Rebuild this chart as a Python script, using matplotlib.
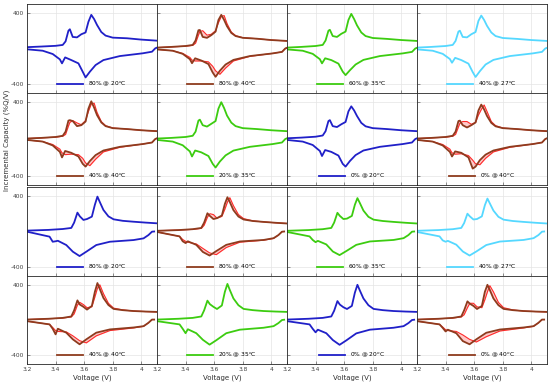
import matplotlib
matplotlib.use('Agg')
import matplotlib.pyplot as plt

# colours used in the panels
BLUE = '#2020c8'
BROWN = '#8e3b1e'
GREEN = '#3ccc10'
CYAN = '#55d8ff'
RED = '#ff2a2a'

# ---- top group (rows 1-2) ----
charge_v_top = [3.20, 3.30, 3.40, 3.45, 3.47, 3.49, 3.50, 3.52, 3.55, 3.58, 3.61,
                3.63, 3.65, 3.67, 3.69, 3.72, 3.75, 3.80, 3.90, 4.00, 4.11]
disch_v_top = [3.20, 3.31, 3.38, 3.43, 3.445, 3.467, 3.51, 3.56, 3.59, 3.61, 3.64,
               3.68, 3.735, 3.85, 4.01, 4.075, 4.098, 4.11]

top_labels = ['80% @ 20$^o$C', '80% @ 40$^o$C', '60% @ 35$^o$C', '40% @ 27$^o$C',
              '40% @ 40$^o$C', '20% @ 35$^o$C', '0% @ 20$^o$C', '0% @ 40$^o$C']
top_colors = [BLUE, BROWN, GREEN, CYAN, BROWN, GREEN, BLUE, BROWN]

top_charge = [
    [15, 22, 30, 40, 80, 200, 216, 130, 125, 160, 180, 300, 378, 330, 265, 185, 145, 122, 115, 100, 88],
    [10, 18, 28, 40, 90, 205, 208, 130, 120, 150, 190, 320, 378, 320, 250, 175, 140, 120, 110, 95, 85],
    [10, 18, 28, 40, 90, 200, 210, 140, 130, 165, 190, 320, 389, 330, 260, 180, 140, 118, 108, 95, 85],
    [10, 18, 28, 40, 85, 190, 200, 130, 125, 160, 185, 310, 370, 320, 255, 180, 140, 118, 108, 95, 85],
    [5, 12, 22, 35, 80, 200, 205, 195, 140, 150, 190, 330, 410, 340, 260, 180, 140, 118, 108, 95, 85],
    [5, 12, 22, 35, 80, 200, 210, 150, 135, 165, 195, 330, 400, 335, 255, 178, 140, 118, 108, 95, 85],
    [8, 15, 25, 38, 85, 195, 205, 140, 130, 160, 185, 300, 355, 310, 250, 175, 138, 118, 108, 95, 85],
    [5, 12, 22, 35, 80, 195, 200, 150, 125, 150, 180, 310, 374, 320, 250, 175, 138, 118, 108, 95, 85],
]
top_disch = [
    [-9, -25, -62, -122, -167, -100, -130, -167, -261, -325, -261, -186, -130, -85, -54, -36, 2, 10],
    [-10, -25, -60, -120, -165, -110, -135, -175, -270, -318, -250, -180, -128, -85, -55, -38, 0, 8],
    [-10, -25, -60, -120, -167, -110, -130, -170, -260, -299, -245, -180, -128, -85, -55, -38, 0, 8],
    [-10, -25, -60, -118, -160, -105, -130, -170, -265, -320, -255, -180, -128, -85, -55, -38, 0, 8],
    [-10, -28, -70, -140, -200, -130, -150, -190, -270, -300, -240, -175, -125, -85, -55, -38, 0, 8],
    [-10, -28, -68, -135, -190, -125, -145, -185, -270, -310, -245, -178, -126, -85, -55, -38, 0, 8],
    [-10, -28, -65, -130, -185, -120, -140, -180, -270, -300, -240, -175, -125, -85, -55, -38, 0, 8],
    [-10, -28, -70, -140, -190, -135, -150, -200, -322, -300, -230, -170, -125, -85, -55, -38, 0, 8],
]
# early cycles (red) for the 40 degC cells, panel index -> curve
top_charge_red = {
    1: [10, 18, 26, 35, 60, 150, 190, 200, 150, 160, 200, 290, 360, 370, 280, 185, 145, 122, 110, 95, 85],
    4: [5, 12, 20, 30, 50, 140, 180, 200, 175, 155, 200, 300, 380, 390, 290, 190, 145, 120, 108, 95, 85],
    7: [5, 12, 20, 30, 50, 130, 170, 190, 190, 160, 180, 260, 320, 370, 300, 190, 145, 120, 108, 95, 85],
}
top_disch_red = {
    1: [-10, -25, -55, -100, -130, -140, -140, -150, -200, -250, -290, -220, -140, -88, -55, -38, 0, 8],
    4: [-10, -28, -60, -110, -150, -170, -165, -170, -210, -260, -290, -220, -140, -90, -55, -38, 0, 8],
    7: [-10, -28, -60, -110, -150, -165, -160, -180, -230, -270, -280, -210, -140, -90, -55, -38, 0, 8],
}

# ---- bottom group (rows 3-4) ----
charge_v_bot = [3.20, 3.35, 3.45, 3.51, 3.53, 3.553, 3.57, 3.595, 3.62, 3.654, 3.675,
                3.693, 3.71, 3.735, 3.77, 3.806, 3.87, 3.945, 4.03, 4.11]
disch_v_bot = [3.20, 3.358, 3.38, 3.40, 3.416, 3.475, 3.521, 3.568, 3.615, 3.685,
               3.78, 3.946, 4.016, 4.05, 4.075, 4.09]

bot_labels = top_labels
bot_colors = top_colors

bot_charge = [
    [10, 18, 28, 40, 100, 212, 170, 130, 140, 167, 300, 392, 330, 242, 170, 137, 120, 110, 100, 92],
    [8, 16, 26, 40, 100, 205, 175, 140, 150, 180, 310, 385, 330, 240, 168, 135, 118, 108, 98, 90],
    [8, 16, 26, 40, 100, 210, 175, 140, 145, 175, 300, 375, 320, 235, 165, 133, 118, 108, 98, 90],
    [8, 16, 26, 40, 95, 200, 170, 135, 140, 170, 295, 370, 315, 235, 165, 133, 118, 108, 98, 90],
    [5, 14, 24, 40, 110, 223, 175, 150, 118, 160, 320, 420, 350, 250, 170, 126, 112, 102, 96, 92],
    [5, 14, 24, 40, 110, 220, 180, 150, 125, 165, 320, 410, 340, 245, 168, 126, 112, 102, 96, 92],
    [5, 14, 24, 40, 105, 215, 175, 145, 125, 160, 310, 400, 335, 245, 168, 126, 112, 102, 96, 92],
    [5, 14, 24, 40, 110, 212, 185, 160, 125, 160, 320, 400, 340, 245, 168, 126, 112, 102, 96, 92],
]
bot_disch = [
    [-2, -58, -115, -110, -104, -152, -227, -276, -227, -152, -115, -96, -77, -40, -2, 0],
    [-5, -55, -110, -130, -110, -150, -230, -270, -220, -150, -112, -95, -75, -40, -2, 0],
    [-5, -55, -95, -120, -105, -145, -225, -265, -220, -150, -112, -95, -75, -40, -2, 0],
    [-5, -55, -100, -115, -105, -148, -225, -270, -225, -152, -113, -95, -75, -40, -2, 0],
    [-13, -50, -100, -163, -99, -144, -220, -276, -220, -144, -107, -85, -70, -32, 5, 5],
    [-13, -50, -100, -150, -105, -150, -225, -280, -230, -150, -110, -88, -70, -35, 0, 3],
    [-13, -50, -100, -140, -110, -150, -228, -282, -232, -152, -110, -88, -70, -35, 0, 3],
    [-13, -50, -90, -130, -110, -150, -240, -276, -220, -145, -108, -85, -70, -32, 5, 5],
]
bot_charge_red = {
    1: [8, 16, 24, 35, 70, 160, 200, 190, 150, 170, 250, 330, 380, 290, 190, 145, 120, 108, 98, 90],
    4: [5, 14, 22, 35, 70, 170, 200, 175, 140, 150, 260, 360, 400, 300, 190, 135, 115, 102, 96, 92],
    7: [5, 14, 22, 35, 60, 140, 190, 190, 150, 140, 230, 320, 390, 320, 200, 140, 115, 102, 96, 92],
}
bot_disch_red = {
    1: [-5, -55, -90, -110, -120, -140, -190, -240, -260, -180, -120, -98, -78, -40, -2, 0],
    4: [-13, -50, -85, -120, -130, -135, -180, -235, -260, -180, -120, -90, -72, -32, 5, 5],
    7: [-13, -50, -80, -110, -120, -130, -170, -220, -250, -190, -125, -90, -72, -32, 5, 5],
}

x_ticks = [3.2, 3.4, 3.6, 3.8, 4.0]
x_tick_labels = ['3.2', '3.4', '3.6', '3.8', '4']
y_ticks = [-400, 400]
y_tick_labels = ['-400', '400']


def draw_panel(ax, cv, dv, charge, disch, color, label, charge_red=None, disch_red=None):
    if charge_red is not None:
        ax.fill_between(cv, charge, charge_red, color=RED, alpha=0.25, lw=0)
        ax.fill_between(dv, disch, disch_red, color=RED, alpha=0.25, lw=0)
        ax.plot(cv, charge_red, color=RED, lw=0.8)
        ax.plot(dv, disch_red, color=RED, lw=0.8)
    line, = ax.plot(cv, charge, color=color, lw=1.3, label=label)
    ax.plot(dv, disch, color=color, lw=1.3)

    ax.set_xlim(3.2, 4.11)
    ax.set_ylim(-500, 500)
    ax.set_xticks(x_ticks)
    ax.set_yticks(y_ticks)
    ax.grid(True, color='#e4e4e4', lw=0.5)
    ax.set_axisbelow(True)
    ax.tick_params(direction='in', length=2, width=0.4, labelsize=4.2, pad=2,
                   colors='#404040')
    for s in ax.spines.values():
        s.set_linewidth(0.6)
        s.set_color('#262626')
    leg = ax.legend(handles=[line], loc='lower center', frameon=False, fontsize=4.2,
                    handlelength=4.5, borderaxespad=0.4, handletextpad=0.8)


fig = plt.figure(figsize=(5.5, 3.88), dpi=100)
W, H = 550.0, 388.0
col_left = [27, 157, 287, 417]
col_w = 130
row_top = [4, 93, 187, 276]
row_h = [89, 92, 89, 88]

for r in range(4):
    for c in range(4):
        ax = fig.add_axes([col_left[c] / W, 1 - (row_top[r] + row_h[r]) / H,
                           col_w / W, row_h[r] / H])
        idx = (r % 2) * 4 + c
        if r < 2:
            draw_panel(ax, charge_v_top, disch_v_top, top_charge[idx], top_disch[idx],
                       top_colors[idx], top_labels[idx],
                       top_charge_red.get(idx), top_disch_red.get(idx))
        else:
            draw_panel(ax, charge_v_bot, disch_v_bot, bot_charge[idx], bot_disch[idx],
                       bot_colors[idx], bot_labels[idx],
                       bot_charge_red.get(idx), bot_disch_red.get(idx))
        if c == 0:
            ax.set_yticklabels(y_tick_labels)
        else:
            ax.set_yticklabels([])
        if r == 3:
            ax.set_xticklabels(x_tick_labels)
            ax.set_xlabel('Voltage (V)', fontsize=5, labelpad=2, color='#303030')
        else:
            ax.set_xticklabels([])

fig.text(0.012, 1 - 140 / H, 'Incremental Capacity (%Q/V)', rotation=90,
         fontsize=5, ha='center', va='center', color='#303030')

plt.savefig('out.png', dpi=100)
